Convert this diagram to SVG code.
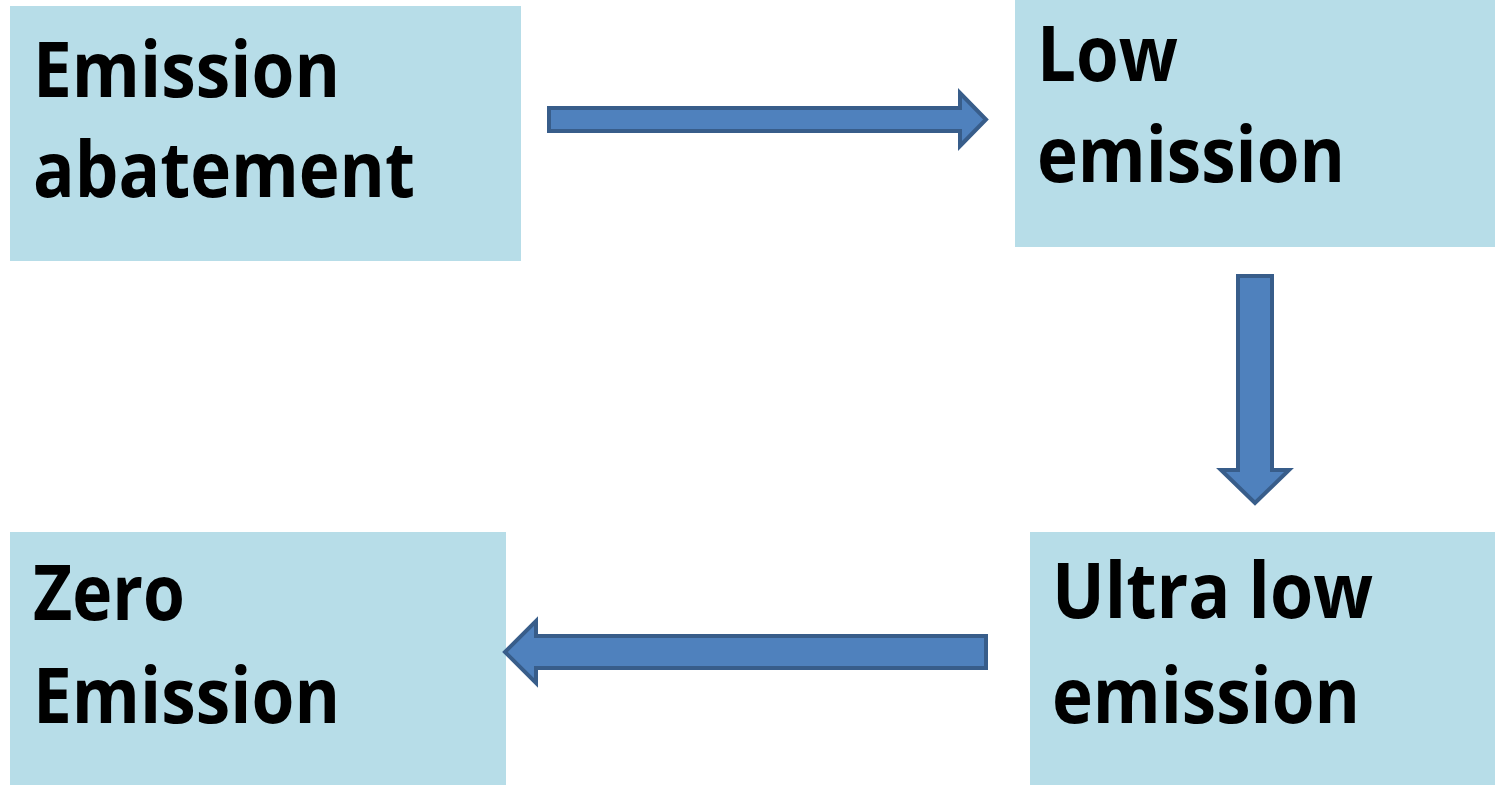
<svg xmlns="http://www.w3.org/2000/svg" width="1495" height="785" viewBox="0 0 1495 785">
<style>
.box{fill:#b7dde8;}
.lbl{font-family:"Open Sans","Liberation Sans",sans-serif;font-weight:bold;font-size:77px;fill:#000;}
.arr{fill:#4f81bd;stroke:#385d8a;stroke-width:4;stroke-linejoin:miter;}
</style>
<rect width="1495" height="785" fill="#ffffff"/>
<g id="n-abatement">
<rect class="box" x="10" y="6" width="511" height="255"/>
<text class="lbl" x="33" y="97" textLength="307" lengthAdjust="spacingAndGlyphs">Emission</text>
<text class="lbl" x="33" y="197" textLength="382" lengthAdjust="spacingAndGlyphs">abatement</text>
</g>
<g id="n-low">
<rect class="box" x="1015" y="0" width="480" height="247"/>
<text class="lbl" x="1037" y="81" textLength="141" lengthAdjust="spacingAndGlyphs">Low</text>
<text class="lbl" x="1037" y="182" textLength="308" lengthAdjust="spacingAndGlyphs">emission</text>
</g>
<g id="n-ultra">
<rect class="box" x="1030" y="532" width="465" height="253"/>
<text class="lbl" x="1052" y="618" textLength="321" lengthAdjust="spacingAndGlyphs">Ultra low</text>
<text class="lbl" x="1052" y="723" textLength="308" lengthAdjust="spacingAndGlyphs">emission</text>
</g>
<g id="n-zero">
<rect class="box" x="10" y="532" width="496" height="253"/>
<text class="lbl" x="33" y="620" textLength="152" lengthAdjust="spacingAndGlyphs">Zero</text>
<text class="lbl" x="33" y="723" textLength="307" lengthAdjust="spacingAndGlyphs">Emission</text>
</g>
<g id="connectors">
<path class="arr" d="M549,108 L960,108 L960,93 L986,119.5 L960,146 L960,131 L549,131 Z"/>
<path class="arr" d="M1238,276 L1272,276 L1272,470 L1289,470 L1255,503 L1221,470 L1238,470 Z"/>
<path class="arr" d="M986,636 L536,636 L536,621 L505,652 L536,683 L536,668 L986,668 Z"/>
</g>
</svg>
